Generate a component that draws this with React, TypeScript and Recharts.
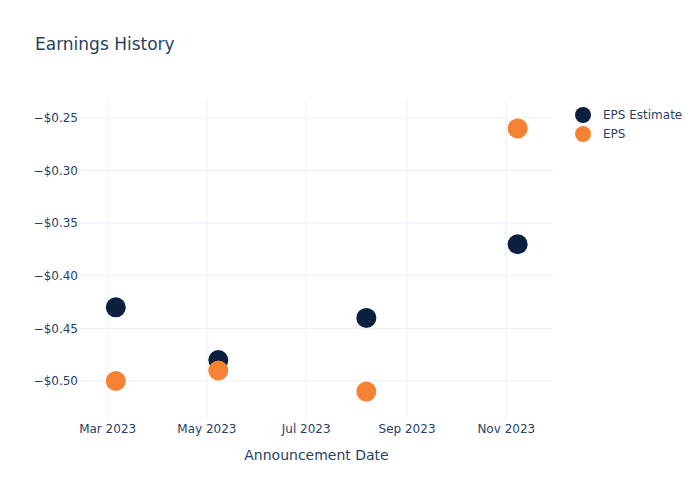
import { ScatterChart, Scatter, XAxis, YAxis, CartesianGrid } from 'recharts'

const TEXT = '#2a3f5f'
const GRID = '#ebf0f8'
const FONT = '"DejaVu Sans", sans-serif'

// announcement dates (UTC)
const dates = ['2023-03-06', '2023-05-08', '2023-08-07', '2023-11-08']
const estimates = [-0.43, -0.48, -0.44, -0.37]
const actuals = [-0.5, -0.49, -0.51, -0.26]

const xTicks = ['2023-03-01', '2023-05-01', '2023-07-01', '2023-09-01', '2023-11-01']
const yTicks = [-0.5, -0.45, -0.4, -0.35, -0.3, -0.25]

const MONTHS = ['Jan', 'Feb', 'Mar', 'Apr', 'May', 'Jun', 'Jul', 'Aug', 'Sep', 'Oct', 'Nov', 'Dec']

const ts = (d: string) => new Date(d + 'T00:00:00Z').getTime()

const estimateData = dates.map((d, i) => ({ x: ts(d), y: estimates[i] }))
const epsData = dates.map((d, i) => ({ x: ts(d), y: actuals[i] }))

const series = [
  { name: 'EPS Estimate', color: '#0b1f3f', data: estimateData },
  { name: 'EPS', color: '#f58232', data: epsData },
]

const fmtDate = (v: number) => {
  const d = new Date(v)
  return `${MONTHS[d.getUTCMonth()]} ${d.getUTCFullYear()}`
}

const fmtMoney = (v: number) => `${v < 0 ? '\u2212' : ''}$${Math.abs(v).toFixed(2)}`

const dot = (color: string) => (props: any) => (
  <circle cx={props.cx} cy={props.cy} r={10} fill={color} />
)

function LegendBox() {
  return (
    <div
      style={{
        position: 'absolute',
        left: 575,
        top: 105,
        fontFamily: FONT,
        fontSize: 12,
        color: TEXT,
      }}
    >
      {series.map((s) => (
        <div key={s.name} style={{ display: 'flex', alignItems: 'center', height: 19 }}>
          <svg width={16} height={16} style={{ marginRight: 12 }}>
            <circle cx={8} cy={8} r={8} fill={s.color} />
          </svg>
          <span>{s.name}</span>
        </div>
      ))}
    </div>
  )
}

export default function App() {
  return (
    <div style={{ position: 'absolute', left: 0, top: 0, width: 700, height: 500, background: '#fff' }}>
      <div
        style={{
          position: 'absolute',
          left: 35,
          top: 33,
          fontFamily: FONT,
          fontSize: 17,
          color: TEXT,
          lineHeight: '22px',
        }}
      >
        Earnings History
      </div>
      <ScatterChart
        width={700}
        height={500}
        margin={{ top: 100, right: 147, bottom: 0, left: 0 }}
        style={{ fontFamily: FONT }}
      >
        <CartesianGrid
          stroke={GRID}
          strokeWidth={1}
          verticalValues={xTicks.map(ts)}
          horizontalValues={yTicks}
        />
        <XAxis
          type="number"
          dataKey="x"
          domain={[Date.UTC(2023, 1, 12), Date.UTC(2023, 10, 29, 17)]}
          ticks={xTicks.map(ts)}
          tickFormatter={fmtDate}
          axisLine={false}
          tickLine={false}
          tickSize={0}
          tickMargin={4}
          height={80}
          tick={{ fill: TEXT, fontSize: 12 }}
          allowDataOverflow
          label={{ value: 'Announcement Date', position: 'insideTop', offset: 30, fill: TEXT, fontSize: 14 }}
        />
        <YAxis
          type="number"
          dataKey="y"
          domain={[-0.537, -0.233]}
          ticks={yTicks}
          tickFormatter={fmtMoney}
          axisLine={false}
          tickLine={false}
          tickSize={0}
          tickMargin={2}
          width={80}
          tick={{ fill: TEXT, fontSize: 12 }}
          allowDataOverflow
        />
        {series.map((s) => (
          <Scatter
            key={s.name}
            name={s.name}
            data={s.data}
            fill={s.color}
            shape={dot(s.color)}
            isAnimationActive={false}
          />
        ))}
      </ScatterChart>
      <LegendBox />
    </div>
  )
}
